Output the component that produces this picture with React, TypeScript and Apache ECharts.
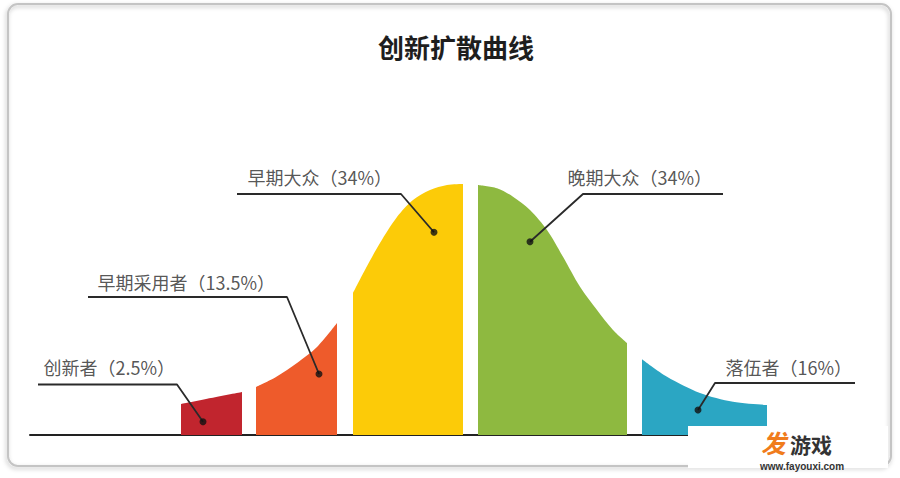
import React, { useEffect, useRef } from "react";
import * as echarts from "echarts";

// Segment names and shares (%)
const segmentNames = ["创新者", "早期采用者", "早期大众", "晚期大众", "落伍者"];
const shares = [2.5, 13.5, 34, 34, 16];
const segmentColors = ["#c1252e", "#ee5b2b", "#fccb08", "#8eb940", "#2ba6c3"];

// Curve top edge per segment, [position, height]
const innovators = [[15.1, 12.4], [18.1, 14.8], [21.2, 17.2]];
const earlyAdopters = [[22.6, 19.2], [24.6, 23.2], [26.7, 28.8], [28.7, 35.2], [30.7, 44.8]];
const earlyMajority = [[32.3, 56.8], [33.6, 66.8], [35.0, 76.8], [36.7, 87.2], [38.3, 94.0], [40.0, 98.0], [41.7, 100.0], [43.3, 100.4]];
const lateMajority = [[44.8, 100.0], [46.7, 98.7], [48.3, 95.3], [50.0, 90.0], [51.7, 82.0], [53.3, 71.3], [55.0, 59.3], [56.7, 50.0], [58.3, 42.0], [59.7, 36.8]];
const laggards = [[61.2, 30.3], [63.7, 23.3], [67.0, 16.8], [70.3, 13.3], [73.7, 12.0]];
const segments = [innovators, earlyAdopters, earlyMajority, lateMajority, laggards];

// Marker dots on each segment
const dots = [[17.3, 5.3], [28.9, 24.4], [40.4, 81.1], [50.0, 77.3], [66.8, 10.0]];
// Leader lines: label line start, elbow, (then dot)
const leaderStarts = [[0.8, 20.2], [5.8, 55.2], [20.7, 96.4], [69.3, 96.4], [82.5, 20.8]];
const leaderElbows = [[14.7, 20.2], [25.7, 55.2], [37.1, 96.4], [55.3, 96.4], [68.5, 20.8]];
// Label anchors (text left edge, vertical middle)
const labelAnchors = [[1.3, 27.2], [6.7, 61.2], [21.7, 103.2], [53.7, 103.2], [69.5, 27.2]];

const FONT = "'Noto Sans CJK SC', 'Noto Sans', sans-serif";

export default function App() {
  const ref = useRef<HTMLDivElement>(null);
  useEffect(() => {
    document.body.style.margin = "0";
    const chart = echarts.init(ref.current!, null, { renderer: "svg" });
    const areaSeries = segments.map((seg, i) => ({
      type: "line",
      name: segmentNames[i],
      data: seg,
      smooth: 0.3,
      symbol: "none",
      lineStyle: { width: 0 },
      areaStyle: { color: segmentColors[i], opacity: 1 },
      itemStyle: { color: segmentColors[i] },
      z: 2,
      silent: true,
    }));
    const leaderSeries = leaderStarts.map((s, i) => ({
      type: "line",
      data: [s, leaderElbows[i], dots[i]],
      symbol: "none",
      smooth: false,
      lineStyle: { color: "#2a2a2a", width: 1.8 },
      z: 5,
      silent: true,
    }));
    chart.setOption({
      animation: false,
      backgroundColor: "#ffffff",
      title: {
        text: "创新扩散曲线",
        left: 378,
        top: 33,
        padding: 0,
        textStyle: { fontFamily: FONT, fontSize: 26, fontWeight: "bold", color: "#1e1e1e" },
      },
      grid: { left: 30, right: 30, top: 160, bottom: 43 },
      xAxis: {
        type: "value",
        min: 0,
        max: 84,
        axisLine: { show: true, lineStyle: { color: "#222", width: 2 } },
        axisTick: { show: false },
        axisLabel: { show: false },
        splitLine: { show: false },
      },
      yAxis: {
        type: "value",
        min: 0,
        max: 110,
        show: false,
        splitLine: { show: false },
      },
      series: [
        ...areaSeries,
        ...leaderSeries,
        {
          type: "scatter",
          data: dots,
          symbolSize: 7,
          itemStyle: { color: "#111" },
          z: 6,
          silent: true,
        },
        {
          type: "scatter",
          data: labelAnchors.map((p, i) => ({ value: p, name: `${segmentNames[i]}（${shares[i]}%）` })),
          symbolSize: 1,
          itemStyle: { color: "rgba(0,0,0,0)" },
          label: {
            show: true,
            position: "right",
            distance: 0,
            formatter: "{b}",
            fontFamily: FONT,
            fontSize: 18,
            color: "#2a2a2a",
          },
          z: 6,
          silent: true,
        },
      ],
      graphic: [
        {
          type: "rect",
          shape: { x: 8, y: 4, width: 883, height: 462, r: 10 },
          style: {
            fill: "none",
            stroke: "#c4c4c4",
            lineWidth: 2,
            shadowBlur: 4,
            shadowColor: "rgba(0,0,0,0.25)",
            shadowOffsetX: -1,
            shadowOffsetY: 2,
          },
          z: 0,
          silent: true,
        },
        {
          type: "rect",
          shape: { x: 688, y: 426, width: 200, height: 42 },
          style: { fill: "#ffffff" },
          z: 20,
          silent: true,
        },
        {
          type: "text",
          x: 761,
          y: 429,
          style: {
            text: "发",
            fontFamily: FONT,
            fontSize: 25,
            fontWeight: "bold",
            fontStyle: "italic",
            fill: "#f07c1c",
          },
          z: 21,
          silent: true,
        },
        {
          type: "text",
          x: 790,
          y: 433,
          style: {
            text: "游戏",
            fontFamily: FONT,
            fontSize: 21,
            fontWeight: "bold",
            fill: "#333",
          },
          z: 21,
          silent: true,
        },
        {
          type: "text",
          x: 760,
          y: 461,
          style: {
            text: "www.fayouxi.com",
            fontFamily: "'Liberation Sans', Arial, sans-serif",
            fontSize: 10,
            fontWeight: "bold",
            fill: "#333",
          },
          z: 21,
          silent: true,
        },
      ],
    });
    return () => chart.dispose();
  }, []);
  return (
    <div
      ref={ref}
      style={{ position: "fixed", left: 0, top: 0, width: 900, height: 478, background: "#fff" }}
    />
  );
}
